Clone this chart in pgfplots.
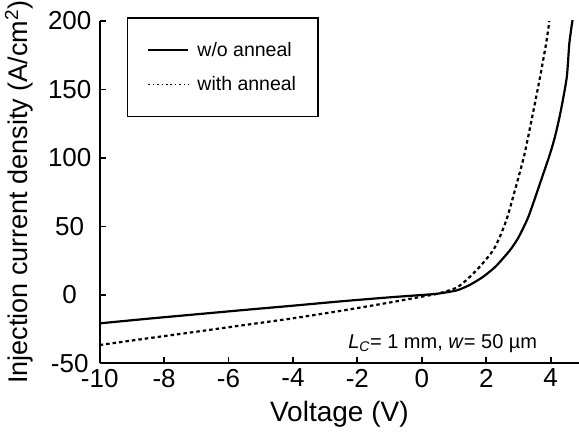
\documentclass[border=0pt]{standalone}
\usepackage{fontspec}
\setmainfont{Liberation Sans}
\usepackage{pgfplots}
\pgfplotsset{compat=1.18}

\begin{document}
\begin{tikzpicture}
\begin{axis}[
  name=ax,
  scale only axis,
  width=479.3pt, height=342.5pt,
  xmin=-10, xmax=4.88, ymin=-50, ymax=200,
  axis lines=left,
  axis line style={line width=2pt, -},
  xtick={-10,-8,...,4}, ytick={-50,0,...,200},
  tick align=inside, major tick length=6pt,
  tick style={line width=1.8pt, black},
  /pgf/number format/assume math mode=true,
  ticklabel style={font=\fontsize{26}{30}\selectfont},
  xticklabel style={yshift=-2pt},
  yticklabel style={anchor=center, xshift=-30pt},
  xlabel={Voltage (V)},
  ylabel={Injection current density (A/cm\textsuperscript{2})},
  xlabel style={font=\fontsize{28}{32}\selectfont, at={(axis description cs:0.5,-0.188)}, anchor=south, inner sep=0pt},
  ylabel style={font=\fontsize{27}{31}\selectfont, at={(axis description cs:-0.198,0.5)}, anchor=north, inner sep=0pt},
  legend style={at={(axis description cs:0.0563,1.0108)}, anchor=north west,
    draw=black, line width=1.5pt, font=\fontsize{19.5}{23}\selectfont,
    inner xsep=20pt, inner ysep=22pt, row sep=15pt,
    /tikz/every odd column/.append style={column sep=6pt}},
  legend cell align=left,
]
% w/o anneal
\addplot[black, line width=2.2pt, smooth, tension=0.4,
  legend image code/.code={\draw[black, line width=2pt] (0pt,0pt) -- (40pt,0pt);}]
  coordinates {
  (-10,-20.7) (-8.5,-17.3) (-7,-14.1) (-5.5,-10.9) (-4,-7.8) (-2.5,-4.6)
  (-1,-1.7) (0,0) (0.5,1) (1.09,3.4) (1.5,7.5) (1.91,13.4) (2.3,21)
  (2.74,32.8) (3.0,42) (3.31,57.2) (3.67,81.5) (3.98,103) (4.15,117)
  (4.32,135) (4.50,159) (4.58,183.7) (4.68,201)
};
% with anneal
\addplot[black, line width=2.2pt, dash pattern=on 3.5pt off 3pt, smooth, tension=0.4,
  legend image code/.code={\draw[black, line width=1.6pt, dash pattern=on 1.6pt off 2.8pt] (0pt,0pt) -- (40pt,0pt);}]
  coordinates {
  (-10,-36.5) (-8.5,-31.6) (-7,-26.8) (-5.5,-21.9) (-4,-17) (-2.5,-11.5)
  (-1,-5.5) (0,-1.2) (0.5,1) (1.09,5.5) (1.5,13.4) (1.85,22) (2.22,32.8)
  (2.45,44) (2.66,57.2) (2.95,81.5) (3.16,100) (3.26,110.7) (3.47,135)
  (3.67,159) (3.86,183.7) (3.96,200)
};
\legend{w/o anneal, with anneal}
\node[anchor=base west, inner sep=0pt, font=\fontsize{20}{24}\selectfont]
  at (axis cs:-2.29,-38.7) {\textit{L}\textsubscript{\textit{C}}= 1 mm, \textit{w}= 50 µm};
\end{axis}
\pgfresetboundingbox
\path[use as bounding box] ([xshift=-99.7pt,yshift=-68.5pt]ax.south west) rectangle ([yshift=21pt]ax.north east);
\end{tikzpicture}
\end{document}
